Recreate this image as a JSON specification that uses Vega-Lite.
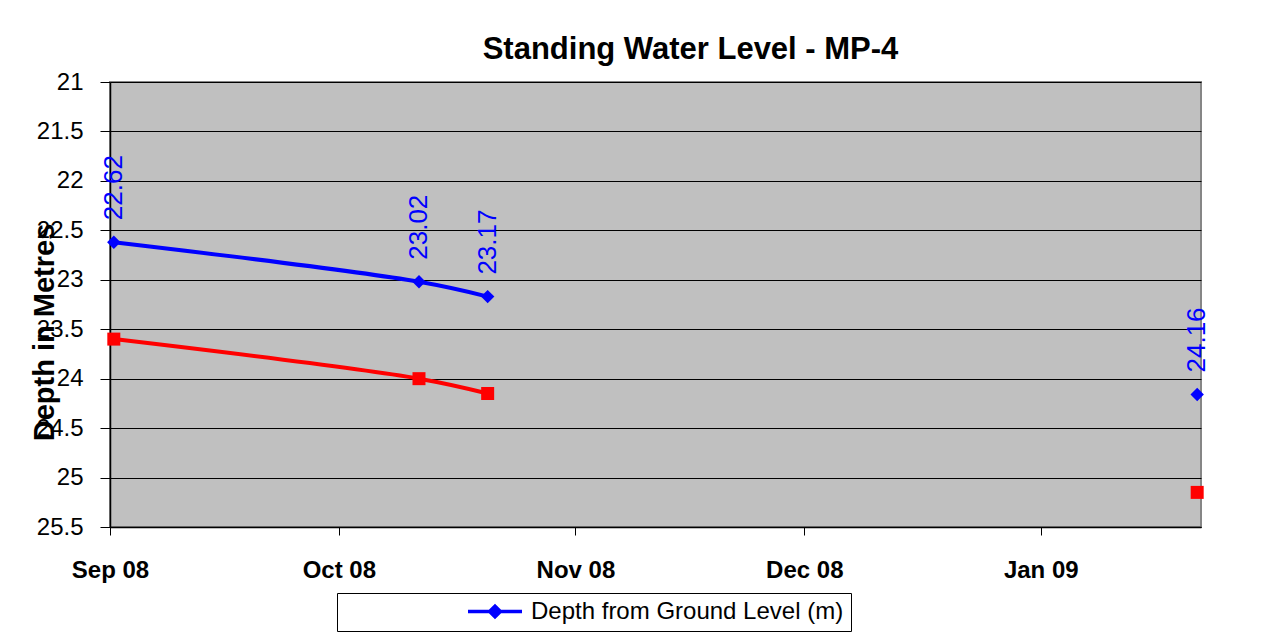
{
  "$schema": "https://vega.github.io/schema/vega-lite/v6.json",
  "width": 1091,
  "height": 445,
  "autosize": {"type": "none"},
  "padding": {"left": 110, "top": 82, "right": 68, "bottom": 110},
  "background": "white",
  "config": {
    "view": {"fill": "#C0C0C0", "stroke": "#868686", "strokeWidth": 2},
    "font": "Liberation Sans"
  },
  "title": {
    "text": "Standing Water Level - MP-4",
    "frame": "group",
    "anchor": "middle",
    "dx": 35,
    "dy": 41,
    "offset": 21,
    "baseline": "alphabetic",
    "fontSize": 31,
    "fontWeight": "bold",
    "font": "Liberation Sans",
    "color": "black"
  },
  "data": {
    "values": [
      {"date": "2008-09-01T12:00:00Z", "depth": 22.62, "series2": 23.6, "seg": 1},
      {"date": "2008-10-11T12:00:00Z", "depth": 23.02, "series2": 24.0, "seg": 1},
      {"date": "2008-10-20T12:00:00Z", "depth": 23.17, "series2": 24.15, "seg": 1},
      {"date": "2009-01-21T12:00:00Z", "depth": 24.16, "series2": 25.15, "seg": 2}
    ]
  },
  "encoding": {
    "x": {
      "field": "date",
      "type": "temporal",
      "scale": {"type": "utc", "domain": ["2008-09-01T00:00:00Z", "2009-01-22T00:00:00Z"]},
      "axis": {
        "format": "%b %y",
        "tickCount": {"interval": "month", "step": 1},
        "labelFontSize": 24,
        "labelFontWeight": "bold",
        "labelFont": "Liberation Sans",
        "labelColor": "black",
        "tickColor": "black",
        "tickSize": 8,
        "domainColor": "black",
        "domainWidth": 1.5,
        "labelPadding": 23,
        "grid": false,
        "title": null,
        "labelFlush": false,
        "labelOverlap": false
      }
    }
  },
  "layer": [
    {
      "mark": {"type": "line", "color": "#FF0000", "strokeWidth": 4, "interpolate": "catmull-rom"},
      "encoding": {
        "y": {
          "field": "series2",
          "type": "quantitative",
          "title": "Depth in Metres",
          "scale": {"domain": [21, 25.5], "reverse": true, "nice": false, "zero": false},
          "axis": {
            "values": [21, 21.5, 22, 22.5, 23, 23.5, 24, 24.5, 25, 25.5],
            "format": "~f",
            "grid": true,
            "gridColor": "black",
            "gridWidth": 1,
            "gridOpacity": 1,
            "domainColor": "black",
            "domainWidth": 1.5,
            "tickColor": "black",
            "tickSize": 10,
            "labelFontSize": 24,
            "labelFont": "Liberation Sans",
            "labelColor": "black",
            "labelPadding": 17,
            "labelFlush": false,
            "labelOverlap": false,
            "titleFontSize": 29,
            "titleFontWeight": "bold",
            "titleFont": "Liberation Sans",
            "titleColor": "black",
            "titleX": -66,
            "titleY": 250,
            "titleBaseline": "middle",
            "titleAngle": 270
          }
        },
        "detail": {"field": "seg"}
      }
    },
    {
      "mark": {"type": "point", "shape": "square", "filled": true, "color": "#FF0000", "size": 169, "opacity": 1},
      "encoding": {
        "y": {"field": "series2", "type": "quantitative", "title": "Depth in Metres"}
      }
    },
    {
      "mark": {"type": "line", "strokeWidth": 4, "interpolate": "catmull-rom"},
      "encoding": {
        "y": {"field": "depth", "type": "quantitative", "title": "Depth in Metres"},
        "detail": {"field": "seg"},
        "color": {
          "datum": "Depth from Ground Level (m)",
          "type": "nominal",
          "scale": {"range": ["#0000FF"]},
          "legend": {
            "orient": "none",
            "legendX": 227,
            "legendY": 511,
            "title": null,
            "symbolType": "M-1,0L1,0M-0.2,0L0,-0.2L0.2,0L0,0.2Z",
            "symbolSize": 2916,
            "symbolOffset": 122,
            "symbolStrokeWidth": 3.5,
            "symbolFillColor": "#0000FF",
            "symbolStrokeColor": "#0000FF",
            "clipHeight": 23,
            "labelFontSize": 24,
            "labelFont": "Liberation Sans",
            "labelColor": "black",
            "labelOffset": 7,
            "labelLimit": 800,
            "labelExpr": "datum.label + '\u00a0\u00a0\u00a0\u00a0\u00a0\u00a0\u00a0\u00a0\u00a0\u00a0\u00a0\u00a0\u00a0\u00a0\u00a0\u00a0\u00a0\u00a0'",
            "padding": 7,
            "strokeColor": "black",
            "fillColor": "white",
            "cornerRadius": 0
          }
        }
      }
    },
    {
      "mark": {"type": "point", "shape": "diamond", "filled": true, "size": 180, "opacity": 1},
      "encoding": {
        "y": {"field": "depth", "type": "quantitative", "title": "Depth in Metres"},
        "color": {"datum": "Depth from Ground Level (m)", "type": "nominal"}
      }
    },
    {
      "mark": {"type": "text", "angle": 270, "align": "left", "baseline": "middle", "dx": 22, "fontSize": 26, "color": "#0000FF", "font": "Liberation Sans"},
      "encoding": {
        "y": {"field": "depth", "type": "quantitative", "title": "Depth in Metres"},
        "text": {"field": "depth", "type": "quantitative", "format": ".2f"}
      }
    }
  ]
}
